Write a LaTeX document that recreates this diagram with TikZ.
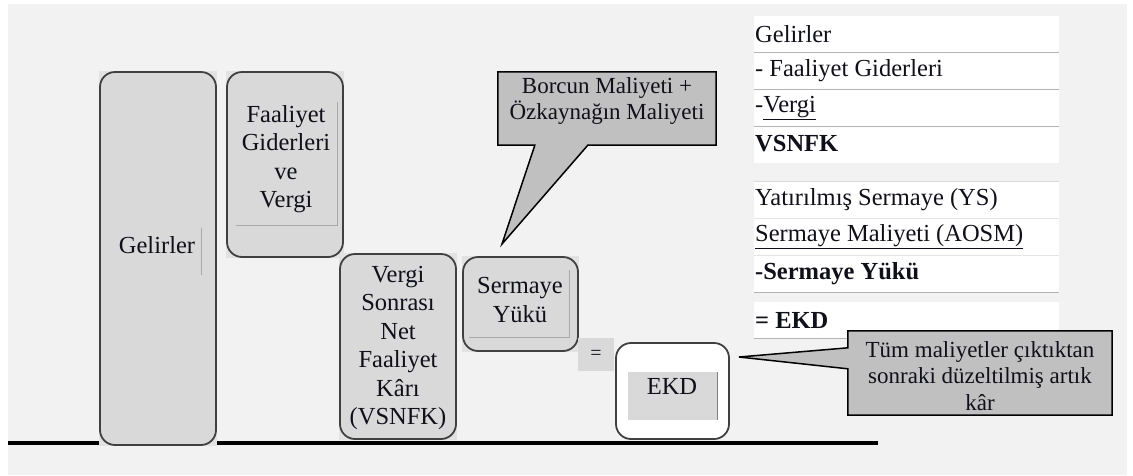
\documentclass[tikz,border=0pt]{standalone}
\usepackage{fontspec}
\setmainfont{Liberation Serif}
\usetikzlibrary{calc,backgrounds}
\definecolor{pagebg}{HTML}{F2F2F2}
\definecolor{platefill}{HTML}{D9D9D9}
\definecolor{plateback}{HTML}{E2E2E2}
\definecolor{edge}{HTML}{404040}
\definecolor{callfill}{HTML}{C0C0C0}
\definecolor{guidegray}{HTML}{A8A8A8}
\definecolor{rulegray}{HTML}{B4B4B4}
\definecolor{ink}{HTML}{10101A}
\tikzset{
  plate/.style={draw=edge, line width=1.8pt, fill=platefill, rounded corners=15pt, inner sep=0pt},
  whiteplate/.style={plate, fill=white},
  flatbox/.style={fill=platefill, inner sep=0pt},
  boxtext/.style={align=center, inner sep=0pt, text=ink, font=\fontsize{24.5}{28.4}\selectfont},
  calltext/.style={align=center, inner sep=0pt, text=ink, font=\fontsize{23}{26.5}\selectfont},
  rowtext/.style={anchor=west, inner sep=0pt, text=ink, font=\fontsize{24.5}{28}\selectfont},
  calloutbox/.style={draw=black, line width=1.5pt, fill=callfill, line join=miter},
  guide/.style={draw=guidegray, line width=0.8pt},
  rowrule/.style={draw=rulegray, line width=0.9pt},
}
\begin{document}
\begin{tikzpicture}[x=1pt,y=-1pt]
\useasboundingbox (0,0) rectangle (1133,475);

% the blocks
\node[plate, minimum width=116pt, minimum height=373pt] (gel) at (158,258.5) {};
\node[plate, minimum width=116pt, minimum height=185pt] (fai) at (285,164.5) {};
\node[plate, minimum width=116pt, minimum height=185pt] (vsn) at (398,346.5) {};
\node[plate, minimum width=115pt, minimum height=94pt] (ser) at (520.5,304) {};
\node[flatbox, minimum width=36pt, minimum height=33pt] (eq) at (596,354.5) {};
\node[whiteplate, minimum width=113pt, minimum height=96pt] (ekd) at (672.5,391) {};
\node[flatbox, minimum width=89pt, minimum height=48pt] (ekdin) at (672.5,396) {};

% page, ground line and the square backing of each block
\begin{scope}[on background layer]
  \fill[white] (0,0) rectangle (1133,475);
  \fill[pagebg] (8,4) rectangle (1127,475);
  \draw[line width=4pt] (8,443) -- (878,443);
  \foreach \b in {gel,fai,vsn,ser}
    \fill[plateback] (\b.north west) rectangle (\b.south east);
\end{scope}

% thin guide strokes inside the blocks
\draw[guide] (201,228) -- (201,275);
\draw[guide] (236,225) -- (337,225) -- (337,102);
\draw[guide] (469,337) -- (569,337) -- (569,270);
\draw[draw=gray, line width=1.2pt] (ekdin.north east) -- (ekdin.south east);

% block labels
\node[boxtext] (gelt) at (157,245) {Gelirler};
\node[boxtext] (fait) at (286,159) {Faaliyet\\Giderleri\\ve\\Vergi};
\node[boxtext] (vsnt) at (398,348) {Vergi\\Sonrası\\Net\\Faaliyet\\Kârı\\(VSNFK)};
\node[boxtext] (sert) at (520,300) {Sermaye\\Yükü};
\node[boxtext, font=\fontsize{20}{22}\selectfont] (eqt) at (596,355) {=};
\node[boxtext] (ekdt) at (672,386) {EKD};

% callout over the capital charge
\node[calltext, minimum width=218pt, minimum height=73pt] (bc) at (607,108.5) {};
\coordinate (tipA) at (502,244);
\draw[calloutbox] (bc.north west) -- (bc.north east) -- (bc.south east)
  -- ($(bc.south west)+(90,0)$) -- (tipA) -- ($(bc.south west)+(37,0)$)
  -- (bc.south west) -- cycle;
\node[calltext] (bct) at (607,101) {Borcun Maliyeti +\\Özkaynağın Maliyeti};

% summary table
\fill[white] (754,16) rectangle (1059,163);
\fill[white] (754,181) rectangle (1059,292);
\fill[white] (754,302) rectangle (1059,338);
\foreach \y in {52,89,126,292,338} \draw[rowrule] (754,\y) -- (1059,\y);
\draw[rowrule, draw=rulegray!50] (754,181) -- (1059,181);
\draw[rowrule, draw=rulegray!35] (754,218) -- (1059,218);
\draw[rowrule, draw=rulegray!35] (754,255) -- (1059,255);

\node[rowtext] (r1) at (755,34) {Gelirler};
\node[rowtext] (r2) at (755,71) {- Faaliyet Giderleri};
\node[rowtext] (r3) at (755,108) {-\underline{Vergi}};
\node[rowtext] (r4) at (755,144) {\bfseries VSNFK};
\node[rowtext] (r5) at (755,200) {Yatırılmış Sermaye (YS)};
\node[rowtext] (r6) at (755,237) {\underline{Sermaye Maliyeti (AOSM)}};
\node[rowtext] (r7) at (755,274) {\bfseries -Sermaye Yükü};
\node[rowtext] (r8) at (755,320) {\bfseries = EKD};

% callout beside EKD
\node[calltext, minimum width=264pt, minimum height=84pt] (ek) at (980,373) {};
\coordinate (tipB) at (739,357);
\draw[calloutbox] (ek.north west) -- (ek.north east) -- (ek.south east)
  -- (ek.south west) -- ($(ek.north west)+(0,38)$) -- (tipB)
  -- ($(ek.north west)+(0,17)$) -- cycle;
\node[calltext] (ekt) at (980,376) {Tüm maliyetler çıktıktan\\sonraki düzeltilmiş artık\\kâr};
\end{tikzpicture}
\end{document}
